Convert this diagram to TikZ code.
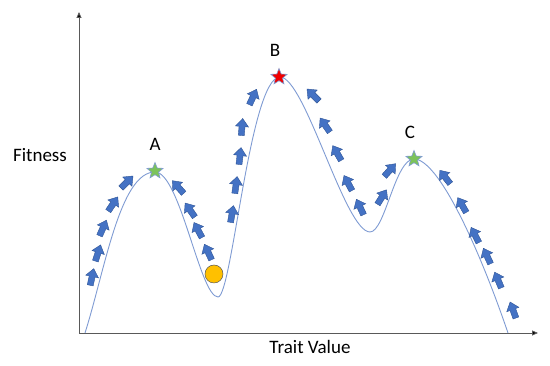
\documentclass[tikz,border=0pt]{standalone}
\usepackage{fontspec}
\setmainfont{Carlito}
\usepackage{tikz}
\usetikzlibrary{arrows.meta,shapes.geometric,positioning}
\definecolor{curveblue}{HTML}{7F9BD3}
\definecolor{arrowblue}{HTML}{4472C4}
\definecolor{arrowedge}{HTML}{2F5597}
\definecolor{peakgreen}{HTML}{7CC35A}
\definecolor{peakred}{HTML}{F00000}
\definecolor{ballorange}{HTML}{FFC000}
\definecolor{axisgray}{HTML}{595959}
\tikzset{
  axisline/.style={draw=axisgray,line width=0.9pt,-{Triangle[length=6pt,width=5pt,fill=black]}},
  peakstar/.style={star,star points=5,star point ratio=2.3,minimum size=17pt,inner sep=0pt,draw=curveblue,line width=0.6pt},
  peaklabel/.style={inner sep=0pt,text=black}
}

\begin{document}
\begin{tikzpicture}[x=1pt,y=1pt,>=Latex,font=\fontsize{19}{22}\selectfont]
  \useasboundingbox (0,0) rectangle (550,366);
  % axes
  \coordinate (O) at (79,33);
  \coordinate (ytop) at (79,354);
  \coordinate (xend) at (538,33);
  \draw[axisline] (O) -- (ytop);
  \draw[axisline] (O) -- (xend);
  \node (fit) at (40,211) {Fitness};
  \node (trait) at (310,19) {Trait Value};
  % fitness landscape
  \draw[curveblue,line width=0.9pt]
    (85,33) .. controls (105,96) and (120,194) .. (155,194)
    .. controls (180,194) and (200,69) .. (218,69)
    .. controls (232,69) and (250,289) .. (280,289)
    .. controls (305,289) and (345,134) .. (370,134)
    .. controls (385,134) and (395,207) .. (414,207)
    .. controls (438,207) and (478,121) .. (508,33);
  % climbing arrows
  \foreach \x/\y/\a in {92/89/78,98/113/72,103/138/66,113/162/56,127/184/45,
      178/179/132,190/156/125,198/136/118,208/114/115,
      232/152/80,236/181/82,240/210/83,242/239/85,253/269/65,
      313/271/135,325/241/125,337/213/120,348/183/118,360/159/115,
      382/169/58,390/196/48,
      445/189/128,462/161/120,475/131/117,487/110/115,498/86/113,513/56/110}{
    \filldraw[fill=arrowblue,draw=arrowedge,line width=0.4pt,shift={(\x,\y)},rotate=\a-90]
      (-3,-8.5) -- (3,-8.5) -- (3,0.5) -- (6.5,0.5) -- (0,8.5)
      -- (-6.5,0.5) -- (-3,0.5) -- cycle;
  }
  % peaks
  \node[peakstar,fill=peakgreen] (pkA) at (155,195) {};
  \node[peakstar,fill=peakred] (pkB) at (279,289) {};
  \node[peakstar,fill=peakgreen] (pkC) at (414,207) {};
  \node[peaklabel,above=11pt of pkA] (labA) {A};
  \node[peaklabel,above=11pt of pkB,xshift=-4pt] (labB) {B};
  \node[peaklabel,above=11pt of pkC,xshift=-4pt] (labC) {C};
  \node[circle,fill=ballorange,draw=axisgray,line width=0.5pt,minimum size=18pt,inner sep=0pt] (ball) at (214,92) {};
\end{tikzpicture}
\end{document}
